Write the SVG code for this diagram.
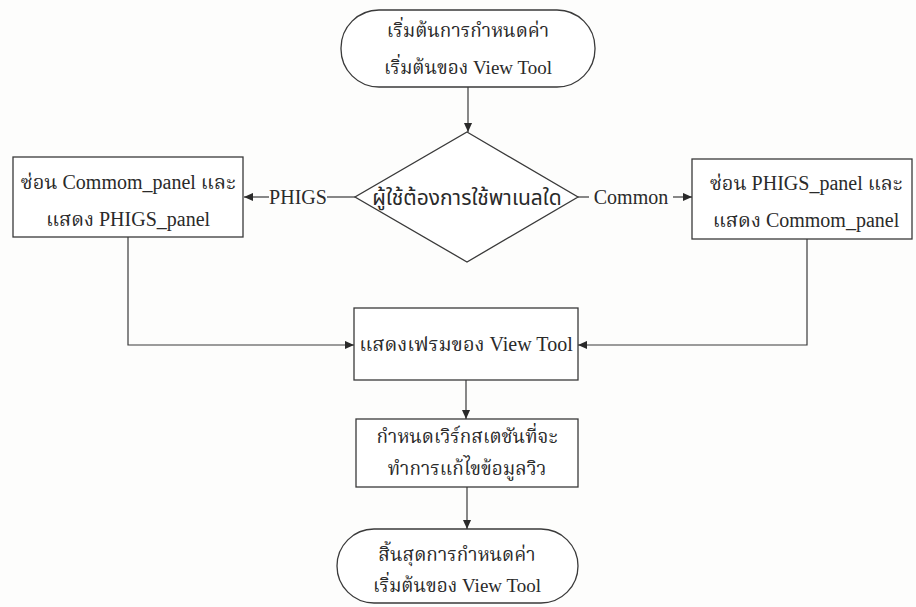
<svg xmlns="http://www.w3.org/2000/svg" width="916" height="607" viewBox="0 0 916 607">
  <defs>
    <marker id="arrow" viewBox="0 0 10 10" refX="10" refY="5" markerWidth="9" markerHeight="9" markerUnits="userSpaceOnUse" orient="auto">
      <path d="M0,0.5 L10,5 L0,9.5 z" fill="#2a2a2a"/>
    </marker>
    <style>
      .shape { fill: #ffffff; stroke: #3a3a3a; stroke-width: 1.3; }
      .line { fill: none; stroke: #3a3a3a; stroke-width: 1.2; }
      .t { font-family: "Liberation Serif", "Noto Serif Thai", "Noto Sans Thai", "Noto Sans", serif; font-size: 19px; fill: #2a2a2a; text-anchor: middle; }
      .b { font-size: 20px; }
      .d { font-family: "Noto Sans Thai", "Noto Sans", "DejaVu Sans", sans-serif; font-size: 21px; fill: #2a2a2a; text-anchor: middle; }
    </style>
  </defs>
  <rect width="916" height="607" fill="#fdfdfc"/>

  <g id="start">
    <rect class="shape" x="341" y="10" width="254" height="77" rx="38" ry="38"/>
    <text class="t" x="468" y="37">เริ่มต้นการกำหนดค่า</text>
    <text class="t" x="468" y="74">เริ่มต้นของ View Tool</text>
  </g>

  <g id="decision">
    <polygon class="shape" points="467,132 578,197 467,262 355,197"/>
    <text class="d" x="467" y="205">ผู้ใช้ต้องการใช้พาเนลใด</text>
  </g>

  <g id="phigs-panel">
    <rect class="shape" x="13" y="157" width="230" height="80"/>
    <text class="t b" x="128" y="189">ซ่อน Commom_panel และ</text>
    <text class="t b" x="128" y="226">แสดง PHIGS_panel</text>
  </g>

  <g id="common-panel">
    <rect class="shape" x="692" y="159" width="220" height="80"/>
    <text class="t b" x="806" y="190">ซ่อน PHIGS_panel และ</text>
    <text class="t b" x="806" y="227">แสดง Commom_panel</text>
  </g>

  <g id="show-frame">
    <rect class="shape" x="354" y="308" width="224" height="72"/>
    <text class="t b" x="466" y="351">แสดงเฟรมของ View Tool</text>
  </g>

  <g id="select-workstation">
    <rect class="shape" x="356" y="419" width="222" height="68"/>
    <text class="t" x="467" y="443">กำหนดเวิร์กสเตชันที่จะ</text>
    <text class="t" x="467" y="475">ทำการแก้ไขข้อมูลวิว</text>
  </g>

  <g id="end">
    <rect class="shape" x="337" y="529" width="241" height="74" rx="37" ry="37"/>
    <text class="t" x="457" y="561">สิ้นสุดการกำหนดค่า</text>
    <text class="t" x="457" y="592">เริ่มต้นของ View Tool</text>
  </g>

  <g id="connectors">
    <path class="line" d="M468,87 V132" marker-end="url(#arrow)"/>
    <path class="line" d="M355,197 H327"/>
    <path class="line" d="M269,197 H244" marker-end="url(#arrow)"/>
    <text class="t b" x="298" y="204">PHIGS</text>
    <path class="line" d="M578,197 H589"/>
    <path class="line" d="M673,197 H692" marker-end="url(#arrow)"/>
    <text class="t b" x="631" y="204">Common</text>
    <path class="line" d="M128,237 V345 H354" marker-end="url(#arrow)"/>
    <path class="line" d="M807,239 V345 H578" marker-end="url(#arrow)"/>
    <path class="line" d="M466,380 V419" marker-end="url(#arrow)"/>
    <path class="line" d="M467,487 V529" marker-end="url(#arrow)"/>
  </g>
</svg>
